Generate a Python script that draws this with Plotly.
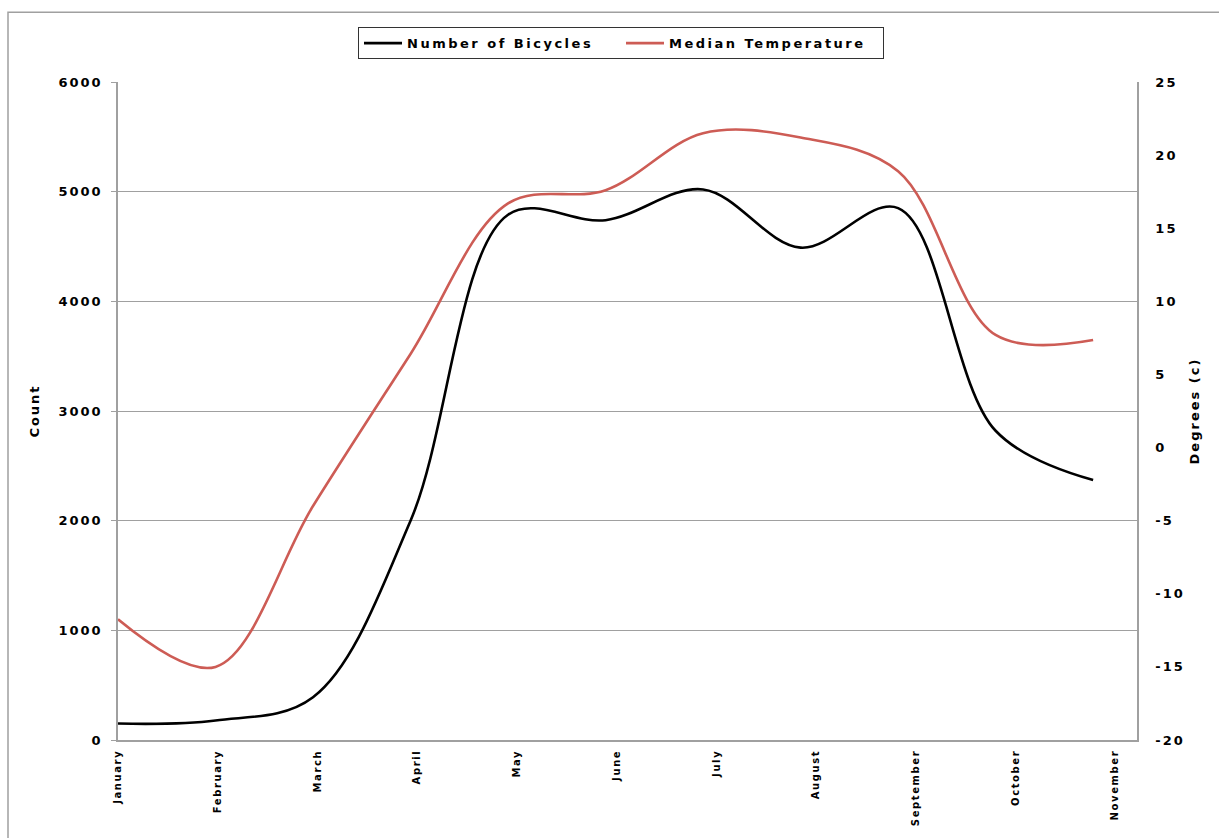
import plotly.graph_objects as go

months = ["January", "February", "March", "April", "May", "June", "July",
          "August", "September", "October", "November"]
bicycles = [150, 178, 390, 2000, 4790, 4740, 5020, 4490, 4850, 2820, 2370]
temperature = [-11.75, -15.0, -4.0, 6.4, 16.7, 17.6, 21.5, 21.2, 18.9, 7.7, 7.35]
count_ticks = [0, 1000, 2000, 3000, 4000, 5000, 6000]
degree_ticks = [-20, -15, -10, -5, 0, 5, 10, 15, 20, 25]

x_pts = list(range(len(bicycles)))
label_step = 1.0226
label_pos = [i * label_step for i in range(len(months))]

FONT = "DejaVu Sans"
GRID = "#a0a0a0"


def spaced(t, ls):
    return f'<span style="letter-spacing:{ls}px">{t}</span>'


W, H = 1219, 838
L, T = 118, 82
PW, PH = 1019, 660
R, B = W - L - PW, H - T - PH

fig = go.Figure()
fig.add_trace(go.Scatter(
    x=x_pts, y=bicycles, name=spaced("Number of Bicycles", 2.5), mode="lines",
    line=dict(color="#000000", width=2.6, shape="spline", smoothing=1.0),
))
fig.add_trace(go.Scatter(
    x=x_pts, y=temperature, name=spaced("Median Temperature", 2.5), mode="lines",
    line=dict(color="#cd5c55", width=2.6, shape="spline", smoothing=1.0),
    yaxis="y2",
))

fig.update_layout(
    width=W, height=H,
    paper_bgcolor="white", plot_bgcolor="white",
    margin=dict(l=L, r=R, t=T, b=B),
    font=dict(family=FONT, color="#000000"),
    showlegend=True,
    legend=dict(
        orientation="h", x=(621 - L) / PW, xanchor="center", y=1 + (T - 27) / PH, yanchor="top",
        bordercolor="#333333", borderwidth=1, bgcolor="white",
        font=dict(family=FONT, size=13, weight="bold"),
        entrywidth=209, itemwidth=38,
    ),
    xaxis=dict(
        range=[0, 10.45], tickmode="array", tickvals=label_pos,
        ticktext=[spaced(m, 1.6) for m in months],
        tickangle=-90, showgrid=False, zeroline=False,
        showline=True, linecolor=GRID, linewidth=1.5,
        tickfont=dict(family=FONT, size=10, weight="bold"),
        ticks="", ticklabelstandoff=4,
    ),
    yaxis=dict(
        range=[0, 6000], tickmode="array", tickvals=count_ticks,
        ticktext=[spaced(v, 2) for v in count_ticks],
        showgrid=True, gridcolor=GRID, gridwidth=1, zeroline=False,
        showline=True, linecolor=GRID, linewidth=1.5,
        ticks="outside", ticklen=5, tickcolor=GRID,
        tickfont=dict(family=FONT, size=13, weight="bold"),
        ticklabelstandoff=6,
        title=dict(text=spaced("Count", 2), font=dict(family=FONT, size=13, weight="bold"), standoff=16),
    ),
    yaxis2=dict(
        range=[-20, 25], tickmode="array", tickvals=degree_ticks,
        ticktext=[spaced(v, 2) for v in degree_ticks],
        overlaying="y", side="right", showgrid=False, zeroline=False,
        showline=True, linecolor=GRID, linewidth=1.5, ticks="",
        tickfont=dict(family=FONT, size=13, weight="bold"),
        ticklabelstandoff=14,
        title=dict(text=spaced("Degrees (c)", 2), font=dict(family=FONT, size=13, weight="bold"), standoff=6),
    ),
    shapes=[dict(
        type="rect", xref="paper", yref="paper",
        x0=(8 - L) / PW, x1=1.3, y0=-0.3, y1=1 + (T - 12) / PH,
        line=dict(color="#a0a0a0", width=1.5), fillcolor="rgba(0,0,0,0)", layer="below",
    )],
)

post = ("document.body.style.margin='0';"
        "document.body.style.overflow='hidden';"
        "document.documentElement.style.overflow='hidden';")
fig.write_html("out.html", post_script=post, config={"displayModeBar": False})
